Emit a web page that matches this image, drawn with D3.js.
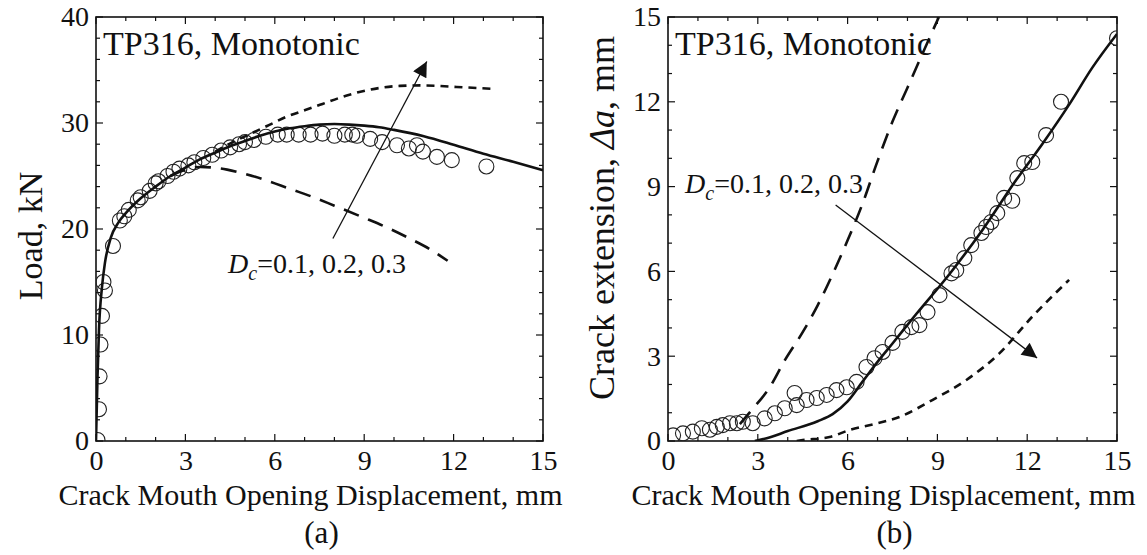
<!DOCTYPE html>
<html>
  <head>
    <meta charset="utf-8">
    <title>TP316 Monotonic</title>
    <script src="https://d3js.org/d3.v7.min.js" type="text/javascript"></script>
    <style>
      body { margin: 0; background: #fff; }
      svg text { font-family: "Liberation Serif", "Times New Roman", serif; fill: #111; }
    </style>
  </head>
  <body>
    <script>
      // ---- panel (a): load vs CMOD ----
      var expA_x = [0.05, 0.1, 0.12, 0.15, 0.2, 0.3, 0.25, 0.57, 0.8, 0.95, 1.1, 1.4, 1.5, 1.8, 2.0, 2.1, 2.4, 2.6, 2.8, 3.1, 3.3, 3.6, 3.9, 4.2, 4.5, 4.8, 5.0, 5.3, 5.7, 6.1, 6.4, 6.8, 7.2, 7.6, 8.0, 8.35, 8.6, 8.76, 9.2, 9.6, 10.1, 10.5, 10.77, 10.97, 11.44, 11.94, 13.1];
      var expA_y = [0.1, 3.0, 6.1, 9.1, 11.8, 14.2, 15.0, 18.4, 20.8, 21.2, 21.8, 22.7, 23.0, 23.6, 24.3, 24.5, 25.0, 25.4, 25.7, 26.0, 26.3, 26.7, 27.0, 27.4, 27.7, 28.0, 28.2, 28.4, 28.7, 28.9, 28.9, 28.9, 28.9, 29.0, 28.8, 28.9, 28.9, 28.8, 28.5, 28.2, 27.9, 27.6, 27.9, 27.3, 26.8, 26.5, 25.9];

      var dc02A_x = [0, 0.05, 0.1, 0.2, 0.3, 0.5, 0.75, 1, 1.5, 2, 2.5, 3, 3.5, 4, 4.5, 5, 5.5, 6, 6.5, 7, 7.5, 8, 8.5, 9, 9.5, 10, 11, 12, 13, 14, 15];
      var dc02A_y = [0, 6, 10.5, 14.5, 16.8, 19.2, 20.6, 21.5, 22.9, 24.0, 25.0, 25.8, 26.6, 27.2, 27.8, 28.3, 28.8, 29.2, 29.5, 29.7, 29.85, 29.9, 29.85, 29.75, 29.6, 29.35, 28.75, 27.95, 27.1, 26.35, 25.55];

      var dc03A_x = [4.0, 4.6, 5.2, 5.8, 6.4, 7.0, 7.6, 8.2, 8.8, 9.5, 10.2, 10.9, 11.5, 12.1, 12.8, 13.4];
      var dc03A_y = [27.3, 28.2, 29.0, 29.8, 30.6, 31.2, 31.8, 32.4, 32.9, 33.3, 33.5, 33.55, 33.5, 33.4, 33.3, 33.2];

      var dc01A_x = [2.5, 3.0, 3.5, 3.9, 4.4, 5.0, 5.6, 6.2, 6.8, 7.3, 8.0, 8.96, 9.8, 10.6, 11.2, 11.8];
      var dc01A_y = [25.0, 25.6, 25.85, 25.8, 25.6, 25.2, 24.7, 24.1, 23.5, 23.0, 22.2, 21.1, 20.1, 19.0, 18.1, 17.0];

      // ---- panel (b): crack extension vs CMOD ----
      var expB_x = [0.17, 0.5, 0.83, 1.13, 1.4, 1.63, 1.83, 2.07, 2.3, 2.5, 2.83, 3.23, 3.57, 3.9, 4.23, 4.3, 4.63, 4.97, 5.3, 5.63, 5.97, 6.3, 6.63, 6.9, 7.17, 7.5, 7.83, 8.13, 8.4, 8.67, 9.07, 9.47, 9.63, 9.9, 10.13, 10.47, 10.63, 10.8, 11.0, 11.23, 11.5, 11.67, 11.9, 12.17, 12.63, 13.13, 15.0];
      var expB_y = [0.2, 0.27, 0.33, 0.45, 0.4, 0.5, 0.56, 0.63, 0.63, 0.68, 0.63, 0.8, 0.98, 1.16, 1.7, 1.27, 1.45, 1.52, 1.63, 1.8, 1.9, 2.09, 2.62, 2.93, 3.15, 3.47, 3.86, 4.03, 4.1, 4.56, 5.16, 5.93, 6.05, 6.47, 6.93, 7.36, 7.57, 7.75, 8.06, 8.6, 8.5, 9.3, 9.83, 9.87, 10.82, 12.0, 14.25];

      var dc01B_x = [2.4, 2.8, 3.4, 3.9, 4.5, 5.0, 5.5, 6.0, 6.5, 7.0, 7.5, 8.0, 8.5, 9.05];
      var dc01B_y = [0.6, 1.1, 1.9, 2.85, 3.85, 4.8, 5.9, 7.1, 8.4, 9.9, 11.3, 12.5, 13.7, 15.0];

      var dc02B_x = [2.9, 3.3, 4.0, 5.0, 5.5, 6.0, 6.5, 7.0, 7.5, 8.3, 9.4, 10.5, 11.63, 12.5, 13.4, 14.17, 15.0];
      var dc02B_y = [0, 0.1, 0.35, 0.7, 0.95, 1.4, 2.1, 2.8, 3.45, 4.5, 5.9, 7.46, 9.23, 10.5, 11.9, 13.2, 14.4];

      var dc03B_x = [4.3, 4.5, 5.4, 6.07, 6.9, 7.73, 8.83, 9.97, 11.07, 12.17, 13.4];
      var dc03B_y = [0, 0.03, 0.14, 0.39, 0.6, 0.85, 1.45, 2.16, 3.1, 4.4, 5.7];

      // axis ticks
      var xTicks = [0, 3, 6, 9, 12, 15];
      var yTicksA = [0, 10, 20, 30, 40];
      var yTicksB = [0, 3, 6, 9, 12, 15];

      var W = 1147, H = 555;
      var svg = d3.select("body").append("svg")
                  .attr("width", W)
                  .attr("height", H);

      var defs = svg.append("defs");
      defs.append("marker")
          .attr("id", "head")
          .attr("viewBox", "0 0 10 10")
          .attr("refX", 10).attr("refY", 5)
          .attr("markerUnits", "userSpaceOnUse")
          .attr("markerWidth", 19).attr("markerHeight", 15)
          .attr("orient", "auto")
        .append("path")
          .attr("d", "M0,0 L10,5 L0,10 z")
          .attr("fill", "#111");

      function zip(xs, ys) {
        return xs.map(function(v, i) { return [v, ys[i]]; });
      }

      function panel(cfg) {
        var x = d3.scaleLinear().domain([0, 15]).range([cfg.left, cfg.right]);
        var y = d3.scaleLinear().domain(cfg.yDomain).range([cfg.bottom, cfg.top]);
        var g = svg.append("g");

        // ticks pointing inward on all four sides
        var xMinor = d3.range(0, 15.01, 1);
        var yMinor = d3.range(cfg.yDomain[0], cfg.yDomain[1] + 0.01, cfg.yMinorStep);
        var tk = g.append("g").attr("stroke", "#111").attr("stroke-width", 1.2);
        xMinor.forEach(function(v) {
          var big = xTicks.indexOf(v) >= 0 ? 7 : 4;
          tk.append("line").attr("x1", x(v)).attr("x2", x(v)).attr("y1", cfg.bottom).attr("y2", cfg.bottom - big);
          tk.append("line").attr("x1", x(v)).attr("x2", x(v)).attr("y1", cfg.top).attr("y2", cfg.top + big);
        });
        yMinor.forEach(function(v) {
          var big = cfg.yTicks.indexOf(Math.round(v * 100) / 100) >= 0 ? 7 : 4;
          tk.append("line").attr("y1", y(v)).attr("y2", y(v)).attr("x1", cfg.left).attr("x2", cfg.left + big);
          tk.append("line").attr("y1", y(v)).attr("y2", y(v)).attr("x1", cfg.right).attr("x2", cfg.right - big);
        });

        // labelled axes
        var xa = g.append("g").attr("transform", "translate(0," + cfg.bottom + ")")
                  .call(d3.axisBottom(x).tickValues(xTicks).tickSize(0).tickPadding(9));
        var ya = g.append("g").attr("transform", "translate(" + cfg.left + ",0)")
                  .call(d3.axisLeft(y).tickValues(cfg.yTicks).tickSize(0).tickPadding(7));
        [xa, ya].forEach(function(a) {
          a.select(".domain").remove();
          a.selectAll("text").attr("font-size", 28).attr("font-family", "Liberation Serif, serif").attr("fill", "#111");
        });

        // frame
        g.append("rect")
         .attr("x", cfg.left).attr("y", cfg.top)
         .attr("width", cfg.right - cfg.left).attr("height", cfg.bottom - cfg.top)
         .attr("fill", "none").attr("stroke", "#111").attr("stroke-width", 1.6);

        var line = d3.line().x(function(d) { return x(d[0]); }).y(function(d) { return y(d[1]); })
                     .curve(d3.curveMonotoneX);

        var clipId = "clip" + cfg.id;
        defs.append("clipPath").attr("id", clipId).append("rect")
            .attr("x", cfg.left).attr("y", cfg.top)
            .attr("width", cfg.right - cfg.left).attr("height", cfg.bottom - cfg.top);
        var plot = g.append("g").attr("clip-path", "url(#" + clipId + ")");

        plot.selectAll("circle.exp")
            .data(zip(cfg.expX, cfg.expY))
            .enter().append("circle")
            .attr("class", "exp")
            .attr("cx", function(d) { return x(d[0]); })
            .attr("cy", function(d) { return y(d[1]); })
            .attr("r", 7.5)
            .attr("fill", "none")
            .attr("stroke", "#222")
            .attr("stroke-width", 1.1);

        cfg.curves.forEach(function(c) {
          plot.append("path")
              .attr("d", line(zip(c.x, c.y)))
              .attr("fill", "none")
              .attr("stroke", "#111")
              .attr("stroke-width", 2.6)
              .attr("stroke-dasharray", c.dash);
        });

        // arrow
        g.append("line")
         .attr("x1", x(cfg.arrow[0])).attr("y1", y(cfg.arrow[1]))
         .attr("x2", x(cfg.arrow[2])).attr("y2", y(cfg.arrow[3]))
         .attr("stroke", "#111").attr("stroke-width", 1.3)
         .attr("marker-end", "url(#head)");

        // texts
        g.append("text").attr("x", cfg.left + 7).attr("y", cfg.top + 38)
         .attr("font-size", 34).text("TP316, Monotonic");

        var ann = g.append("text").attr("x", cfg.ann[0]).attr("y", cfg.ann[1]).attr("font-size", 28);
        ann.append("tspan").attr("font-style", "italic").text("D");
        ann.append("tspan").attr("font-style", "italic").attr("font-size", 20).attr("dy", 7).text("c");
        ann.append("tspan").attr("dy", -7).text("=0.1, 0.2, 0.3");

        g.append("text")
         .attr("x", (cfg.left + cfg.right) / 2 - 9).attr("y", 505)
         .attr("text-anchor", "middle").attr("font-size", 30)
         .text("Crack Mouth Opening Displacement, mm");

        g.append("text")
         .attr("x", (cfg.left + cfg.right) / 2 + 2).attr("y", 543)
         .attr("text-anchor", "middle").attr("font-size", 31)
         .text(cfg.tag);

        var yl = g.append("text")
         .attr("transform", "translate(" + cfg.yLabelX + "," + cfg.yLabelY + ") rotate(-90)")
         .attr("text-anchor", "middle").attr("font-size", cfg.yLabelSize);
        cfg.yLabel.forEach(function(p) {
          var t = yl.append("tspan").text(p.t);
          if (p.i) t.attr("font-style", "italic");
        });
      }

      panel({
        id: "a", left: 96, right: 543, top: 17, bottom: 441,
        yDomain: [0, 40], yTicks: yTicksA, yMinorStep: 2,
        expX: expA_x, expY: expA_y,
        curves: [
          { x: dc02A_x, y: dc02A_y, dash: null },
          { x: dc03A_x, y: dc03A_y, dash: "8,6" },
          { x: dc01A_x, y: dc01A_y, dash: "16,10" }
        ],
        arrow: [7.95, 19.1, 11.1, 35.8],
        ann: [228, 273],
        tag: "(a)",
        yLabelX: 42, yLabelY: 236, yLabelSize: 34,
        yLabel: [{ t: "Load, kN" }]
      });

      panel({
        id: "b", left: 668, right: 1117, top: 17, bottom: 441,
        yDomain: [0, 15], yTicks: yTicksB, yMinorStep: 1,
        expX: expB_x, expY: expB_y,
        curves: [
          { x: dc02B_x, y: dc02B_y, dash: null },
          { x: dc03B_x, y: dc03B_y, dash: "8,6" },
          { x: dc01B_x, y: dc01B_y, dash: "16,10" }
        ],
        arrow: [5.6, 8.35, 12.33, 2.94],
        ann: [685, 193],
        tag: "(b)",
        yLabelX: 614, yLabelY: 218, yLabelSize: 36,
        yLabel: [{ t: "Crack extension, " }, { t: "\u0394a", i: true }, { t: ", mm" }]
      });
    </script>
  </body>
</html>
